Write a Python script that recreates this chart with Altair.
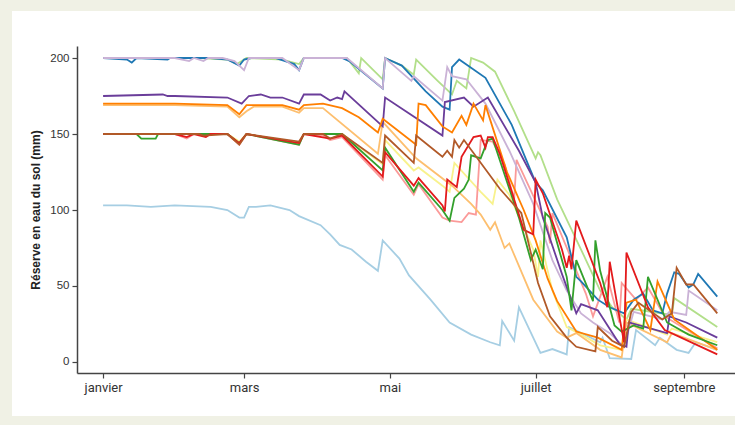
import altair as alt
import pandas as pd

# ---- data (day of year from 1 Jan, soil water reserve in mm) ----
light_blue_days = [0,10,20,30,45,52,57,59,61,64,70,78,82,91,95,99,104,110,115,117,124,128,137,145,154,162,166,167,172,174,183,188,194,195,208,209,212,221,223,231,233,240,245,248,257]
light_blue_vals = [103,103,102,103,102,100,95,95,102,102,103,100,96,90,84,77,74,66,60,80,68,57,41,26,18,13,11,27,14,36,6,8.5,5,23,13,16,2.5,2,21,11,16,8,6,13,8]

blue_days = [0,10,12,14,27,28,45,52,57,59,62,72,80,82,84,100,103,117,118,125,135,142,145,146,149,160,171,181,184,194,198,200,207,212,218,222,226,230,234,236,239,241,245,247,249,257]
blue_vals = [200,199,197,200,199,200,200,199,195,199,200,200,196,192,200,200,198,180,200,195,178,168,166,194,199,187,156,118,113,82,56,53,41,36,32,41,45,34,32,45,59,58,49,51,58,43]

light_green_days = [0,20,40,52,56,58,60,75,82,84,102,107,108,117,118,125,130,131,140,146,148,152,154,159,164,172,181,182,183,190,200,208,213,219,221,238,239,257]
light_green_vals = [200,200,200,199,196,198,200,199,196,200,200,190,200,186,200,195,189,199,185,176,185,180,200,197,191,165,134,138,136,107,74,47,36,28,35,31,42,23]

green_days = [0,14,16,22,23,52,57,60,82,84,100,117,118,130,132,142,145,147,151,153,154,158,161,163,174,179,181,184,185,187,194,196,198,205,206,208,214,217,222,226,228,236,245,257]
green_vals = [150,150,147,147,150,150,144,150,143,150,150,126,141,112,118,100,93,108,114,120,136,134,146,147,95,67,74,61,98,95,56,34,67,40,80,60,24,20,24,22,56,26,18,11]

pink_days = [0,30,35,38,52,57,60,82,84,92,95,100,117,118,130,132,142,145,150,153,156,158,163,168,172,173,186,187,188,202,205,211,216,217,223,228,235,257]
pink_vals = [150,150,147,150,150,143,150,143,150,149,146,148,120,136,110,117,95,93,92,98,97,146,145,130,107,133,89,78,98,45,30,56,26,52,41,49,30,9]

red_days = [0,30,35,38,43,45,52,57,60,82,84,95,100,117,118,130,132,142,143,144,148,150,155,158,160,161,163,166,176,180,181,184,192,194,195,196,198,208,211,212,216,218,219,228,235,257]
red_vals = [150,150,148,150,148,150,150,144,150,144,150,147,149,122,138,116,121,103,99,120,115,135,148,149,141,148,148,137,87,84,120,111,74,62,70,61,93,52,36,66,30,13,72,36,21,5]

light_orange_days = [0,30,52,57,60,63,75,82,84,92,115,117,131,146,154,158,162,164,168,170,180,190,194,198,208,217,219,236,238,257]
light_orange_vals = [169,169,168,161,165,168,168,164,167,167,137,158,134,116,104,97,87,92,75,78,41,20,16,19,8,3,26,13,19,8]

orange_days = [0,30,52,57,60,75,82,84,92,100,107,115,117,131,132,135,142,146,150,152,155,159,160,169,176,181,186,190,198,207,217,219,223,229,232,239,257]
orange_vals = [170,170,169,163,169,169,166,169,170,167,161,151,160,143,170,169,155,151,162,156,170,159,169,125,100,80,55,40,20,16,8,39,41,21,53,28,8]

light_purple_days = [0,30,36,38,42,44,50,55,59,61,75,82,84,102,117,118,129,130,142,144,146,152,160,170,180,188,194,200,205,212,218,219,222,234,237,244,245,257]
light_purple_vals = [200,200,198,200,198,200,200,198,192,200,200,192,200,200,180,200,185,188,172,194,188,186,170,139,104,67,47,32,26,19,10,16,33,28,33,31,47,34]

purple_days = [0,25,27,30,52,58,61,66,70,75,82,84,91,95,98,100,101,117,118,142,143,151,155,161,174,181,184,192,198,200,207,216,219,220,236,237,244,257]
purple_vals = [175,176,175,175,174,170,175,176,174,174,170,176,176,172,174,173,178,155,174,149,171,174,168,174,139,118,95,58,32,38,34,12,10,26,19,30,26,16]

yellow_days = [0,52,57,60,82,84,100,117,118,130,132,142,145,147,158,163,165,170,180,182,183,188,194,200,208,217,219,236,238,257]
yellow_vals = [150,150,145,150,144,150,150,130,146,126,128,116,112,131,112,104,120,110,74,56,80,47,23,18,11,8,28,18,22,13]

brown_days = [0,40,42,52,57,60,82,84,92,95,100,117,118,130,131,142,144,146,147,149,151,166,175,182,187,194,198,206,207,213,218,221,224,234,238,240,244,247,257]
brown_vals = [150,150,149,150,143,150,145,150,150,147,150,131,149,131,149,135,139,135,146,141,146,114,98,52,30,16,10,7,23,14,10,33,39,28,32,62,51,51,32]

# drawing order (first drawn at the bottom)
series = [
    ("light_blue", "#a6cee3", light_blue_days, light_blue_vals),
    ("light_green", "#b2df8a", light_green_days, light_green_vals),
    ("yellow", "#f8f28c", yellow_days, yellow_vals),
    ("pink", "#fb9a99", pink_days, pink_vals),
    ("light_orange", "#fdbf6f", light_orange_days, light_orange_vals),
    ("blue", "#1f78b4", blue_days, blue_vals),
    ("light_purple", "#cab2d6", light_purple_days, light_purple_vals),
    ("purple", "#6a3d9a", purple_days, purple_vals),
    ("orange", "#ff7f00", orange_days, orange_vals),
    ("green", "#33a02c", green_days, green_vals),
    ("red", "#e31a1c", red_days, red_vals),
    ("brown", "#b15928", brown_days, brown_vals),
]

month_labels = ["janvier", "février", "mars", "avril", "mai", "juin", "juillet",
                "août", "septembre", "octobre", "novembre", "décembre"]
y_ticks = [0, 50, 100, 150, 200]

start = pd.Timestamp("2019-01-01")

W, H = 658, 327

x_enc = alt.X(
    "date:T",
    scale=alt.Scale(domain=[alt.DateTime(year=2018, month=12, date=21, hours=2),
                            alt.DateTime(year=2019, month=9, date=22, hours=10)]),
    axis=alt.Axis(
        values=[alt.DateTime(year=2019, month=m, date=1) for m in (1, 3, 5, 7, 9)],
        labelExpr="[" + ",".join("'%s'" % m for m in month_labels) + "][month(datum.value)]",
        title=None, grid=False, tickSize=5, tickColor="#444", domainColor="#444",
        domainWidth=1.5, tickWidth=1.2, labelFont="Liberation Sans Narrow, Roboto, sans-serif",
        labelFontSize=13, labelColor="#333", labelPadding=3, zindex=1,
    ),
)
y_enc = alt.Y(
    "value:Q",
    scale=alt.Scale(domain=[-7.24, 207.9], nice=False, zero=False),
    axis=alt.Axis(
        values=y_ticks, title="Réserve en eau du sol (mm)", titleFontWeight="bold",
        titleFontSize=12, titleFont="Liberation Sans, Arial, sans-serif", titleColor="#222",
        titlePadding=7, grid=False, tickSize=5, tickColor="#444", domainColor="#444",
        domainWidth=1.5, tickWidth=1.2, labelFont="Liberation Sans, Arial, sans-serif",
        labelFontSize=11.5, labelColor="#333", labelPadding=3, zindex=1,
    ),
)

panel = alt.Chart(pd.DataFrame({"p": [0]})).mark_rect(color="white").encode(
    x=alt.value(-65), x2=alt.value(W + 40), y=alt.value(-35), y2=alt.value(370)
)

layers = [panel]
for name, color, days, vals in series:
    df = pd.DataFrame({
        "date": [(start + pd.Timedelta(days=d)).strftime("%Y-%m-%dT%H:%M:%S") for d in days],
        "value": vals,
    })
    layers.append(
        alt.Chart(df).mark_line(color=color, strokeWidth=1.8).encode(x=x_enc, y=y_enc)
    )

chart = alt.layer(*layers).properties(
    width=W, height=H,
    autosize=alt.AutoSizeParams(type="none"),
    padding={"left": 77, "top": 46, "right": 0, "bottom": 52},
    background="#f0f1e5",
).configure_view(stroke=None)

chart.save("out.html", embed_options={"renderer": "svg", "actions": False})
